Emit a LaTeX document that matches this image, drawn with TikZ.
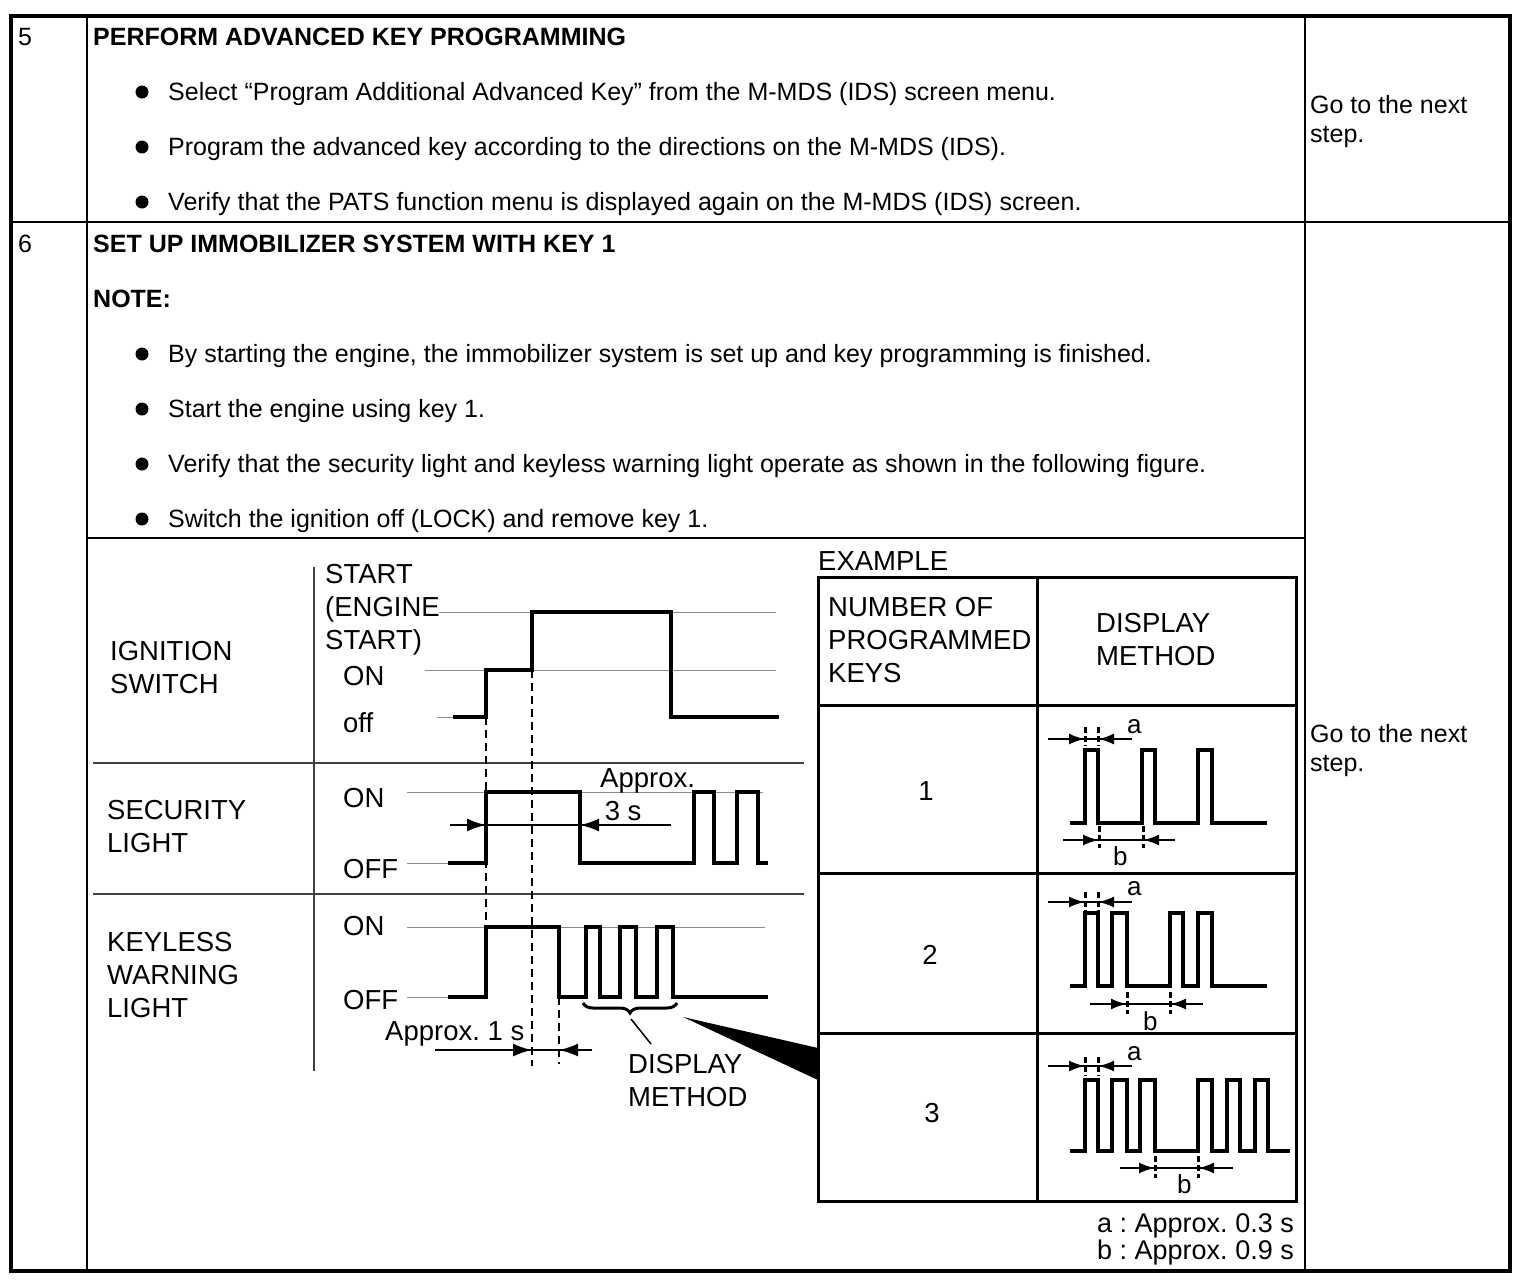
\documentclass[tikz,border=0pt]{standalone}
\usepackage{fontspec}
\setmainfont{Liberation Sans}
\usetikzlibrary{arrows.meta, decorations.pathreplacing}
\usetikzlibrary{calc}
\frenchspacing

\tikzset{
    txt/.style={inner sep=0pt, font=\fontsize{25}{29}\selectfont, align=left},
    hd/.style={inner sep=0pt, font=\fontsize{25}{29}\selectfont\bfseries},
    lbl/.style={inner sep=0pt, font=\fontsize{27.5}{33}\selectfont, align=left},
    small/.style={inner sep=0pt, font=\fontsize{26}{29}\selectfont},
    foot/.style={inner sep=0pt, font=\fontsize{27}{29}\selectfont},
    rule/.style={line width=1.5pt},
    sep/.style={line width=2pt, black!75},
    lvl/.style={line width=1pt, black!45},
    wave/.style={line width=4pt, line join=miter},
    guide/.style={line width=2.5pt, dash pattern=on 8pt off 5pt},
    tick/.style={line width=3pt, dash pattern=on 6pt off 3pt},
    dim/.style={line width=2pt, -{Latex[length=19pt,width=13pt]}},
    dimsmall/.style={line width=2.5pt, -{Latex[length=16pt,width=11pt]}},
}

\begin{document}
\begin{tikzpicture}[x=1pt, y=-1pt]
    \useasboundingbox (0,0) rectangle (1526,1286);

    % outer table
    \draw[line width=4.5pt] (11,16) rectangle (1510,1271);
    \draw[rule] (87,16) -- (87,1271);
    \draw[rule] (1305,16) -- (1305,1271);
    \draw[rule] (11,222) -- (1510,222);
    \draw[rule] (87,538) -- (1305,538);

    % step 5
    \node[txt, anchor=base west] (num5) at (18,45) {5};
    \node[hd, anchor=base west] (head5) at (93,45) {PERFORM ADVANCED KEY PROGRAMMING};
    \fill (142,92) circle (6.5pt);
    \fill (142,147) circle (6.5pt);
    \fill (142,202) circle (6.5pt);
    \node[txt, anchor=base west] (s5a) at (168,100) {Select “Program Additional Advanced Key” from the M-MDS (IDS) screen menu.};
    \node[txt, anchor=base west] (s5b) at (168,155) {Program the advanced key according to the directions on the M-MDS (IDS).};
    \node[txt, anchor=base west] (s5c) at (168,210) {Verify that the PATS function menu is displayed again on the M-MDS (IDS) screen.};
    \node[txt, anchor=base west] (go5) at (1310,142) {Go to the next\\step.};

    % step 6
    \node[txt, anchor=base west] (num6) at (18,252) {6};
    \node[hd, anchor=base west] (head6) at (93,252) {SET UP IMMOBILIZER SYSTEM WITH KEY 1};
    \node[hd, anchor=base west] (note) at (93,307) {NOTE:};
    \fill (142,354) circle (6.5pt);
    \fill (142,409) circle (6.5pt);
    \fill (142,464) circle (6.5pt);
    \fill (142,519) circle (6.5pt);
    \node[txt, anchor=base west] (s6a) at (168,362) {By starting the engine, the immobilizer system is set up and key programming is finished.};
    \node[txt, anchor=base west] (s6b) at (168,417) {Start the engine using key 1.};
    \node[txt, anchor=base west] (s6c) at (168,472) {Verify that the security light and keyless warning light operate as shown in the following figure.};
    \node[txt, anchor=base west] (s6d) at (168,527) {Switch the ignition off (LOCK) and remove key 1.};
    \node[txt, anchor=base west] (go6) at (1310,771) {Go to the next\\step.};

    % timing chart frame
    \draw[sep] (314,567) -- (314,1071);
    \draw[sep] (93,763) -- (804,763);
    \draw[sep] (93,894) -- (804,894);

    % ignition switch
    \node[lbl, anchor=base west] (ign) at (110,693) {IGNITION\\SWITCH};
    \node[lbl, anchor=base west] (ignstart) at (325,649) {START\\(ENGINE\\START)};
    \node[lbl, anchor=base west] (ignon) at (343,685) {ON};
    \node[lbl, anchor=base west] (ignoff) at (343,732) {off};
    \draw[lvl] (439,612) -- (776,612);
    \draw[lvl] (425,670) -- (776,670);
    \draw[lvl] (437,717) -- (455,717);
    \draw[wave] (453,717) -- (486,717) -- (486,670) -- (532,670) -- (532,612) -- (671,612) -- (671,717) -- (779,717);

    % security light
    \node[lbl, anchor=base west] (sec) at (107,852) {SECURITY\\LIGHT};
    \node[lbl, anchor=base west] (secon) at (343,807) {ON};
    \node[lbl, anchor=base west] (secoff) at (343,878) {OFF};
    \draw[lvl] (407,792) -- (763,792);
    \draw[lvl] (407,863) -- (448,863);
    \draw[wave] (448,863) -- (486,863) -- (486,792) -- (580,792) -- (580,863) -- (694,863) -- (694,792) -- (714,792) -- (714,863) -- (737,863) -- (737,792) -- (758,792) -- (758,863) -- (768,863);
    \node[lbl, anchor=base west] (ap3) at (600,820) {Approx.\\\,3 s};
    \draw[line width=2pt] (450,825) -- (671,825);
    \draw[dim] (450,825) -- (486,825);
    \draw[dim] (671,825) -- (580,825);

    % keyless warning light
    \node[lbl, anchor=base west] (kwl) at (107,1017) {KEYLESS\\WARNING\\LIGHT};
    \node[lbl, anchor=base west] (kwlon) at (343,935) {ON};
    \node[lbl, anchor=base west] (kwloff) at (343,1009) {OFF};
    \draw[lvl] (407,927) -- (765,927);
    \draw[lvl] (407,997) -- (448,997);
    \draw[wave] (448,997) -- (486,997) -- (486,927) -- (559,927) -- (559,997) -- (586,997) -- (586,927) -- (600,927) -- (600,997) -- (620,997) -- (620,927) -- (636,927) -- (636,997) -- (657,997) -- (657,927) -- (673,927) -- (673,997) -- (768,997);

    % guides
    \draw[guide] (486,717) -- (486,925);
    \draw[guide] (532,670) -- (532,1066);
    \draw[guide] (559,997) -- (559,1064);
    \node[lbl, anchor=base west] (ap1) at (385,1040) {Approx. 1 s};
    \draw[line width=2pt] (435,1050) -- (592,1050);
    \draw[dim] (435,1050) -- (532,1050);
    \draw[dim] (592,1050) -- (559,1050);

    % display method callout
    \draw[line width=3pt, decorate, decoration={brace, mirror, amplitude=10pt}] (583,1003) -- (677,1003);
    \coordinate (bracetip) at (631,1019);
    \node[lbl, anchor=base west] (dispm) at (628,1106) {DISPLAY\\METHOD};
    \coordinate (leaderend) at (651,1044);
    \draw[line width=1.5pt] (bracetip) -- (leaderend);
    \fill (683,1017) -- (818,1048) -- (818,1080) -- cycle;

    % example table
    \node[lbl, anchor=base west] (example) at (818,570) {EXAMPLE};
    \draw[line width=3pt] (818,577) rectangle (1296,1201);
    \draw[line width=3pt] (1037,577) -- (1037,1201);
    \draw[line width=3pt] (818,705) -- (1296,705);
    \draw[line width=3pt] (818,873) -- (1296,873);
    \draw[line width=3pt] (818,1033) -- (1296,1033);
    \node[lbl, anchor=base west] (hkeys) at (828,682) {NUMBER OF\\PROGRAMMED\\KEYS};
    \node[lbl, anchor=base west] (hdisp) at (1096,665) {DISPLAY\\METHOD};
    \node[lbl] (k1) at (926,791) {1};
    \node[lbl] (k2) at (930,955) {2};
    \node[lbl] (k3) at (932,1113) {3};

    % one key
    \draw[wave] (1070,823) -- (1085,823) -- (1085,750) -- (1098,750) -- (1098,823) -- (1142,823) -- (1142,750) -- (1155,750) -- (1155,823) -- (1198,823) -- (1198,750) -- (1212,750) -- (1212,823) -- (1267,823);
    \draw[tick] (1085,727) -- (1085,746);
    \draw[tick] (1098,727) -- (1098,746);
    \draw[line width=1.5pt] (1048,739) -- (1132,739);
    \draw[dimsmall] (1048,739) -- (1085,739);
    \draw[dimsmall] (1132,739) -- (1098,739);
    \node[small, anchor=base west] (a1) at (1127,733) {a};
    \draw[tick] (1099,826) -- (1099,848);
    \draw[tick] (1143,826) -- (1143,848);
    \draw[line width=1.5pt] (1063,840) -- (1175,840);
    \draw[dimsmall] (1063,840) -- (1099,840);
    \draw[dimsmall] (1175,840) -- (1143,840);
    \node[small, anchor=base west] (b1) at (1113,865) {b};

    % two keys
    \draw[wave] (1070,986) -- (1085,986) -- (1085,913) -- (1098,913) -- (1098,986) -- (1112,986) -- (1112,913) -- (1127,913) -- (1127,986) -- (1170,986) -- (1170,913) -- (1183,913) -- (1183,986) -- (1198,986) -- (1198,913) -- (1212,913) -- (1212,986) -- (1267,986);
    \draw[tick] (1085,892) -- (1085,911);
    \draw[tick] (1098,892) -- (1098,911);
    \draw[line width=1.5pt] (1048,902) -- (1132,902);
    \draw[dimsmall] (1048,902) -- (1085,902);
    \draw[dimsmall] (1132,902) -- (1098,902);
    \node[small, anchor=base west] (a2) at (1127,895) {a};
    \draw[tick] (1127,992) -- (1127,1014);
    \draw[tick] (1170,992) -- (1170,1014);
    \draw[line width=1.5pt] (1090,1004) -- (1203,1004);
    \draw[dimsmall] (1090,1004) -- (1127,1004);
    \draw[dimsmall] (1203,1004) -- (1170,1004);
    \node[small, anchor=base west] (b2) at (1143,1030) {b};

    % three keys
    \draw[wave] (1070,1151) -- (1085,1151) -- (1085,1080) -- (1098,1080) -- (1098,1151) -- (1112,1151) -- (1112,1080) -- (1127,1080) -- (1127,1151) -- (1140,1151) -- (1140,1080) -- (1155,1080) -- (1155,1151) -- (1198,1151) -- (1198,1080) -- (1212,1080) -- (1212,1151) -- (1227,1151) -- (1227,1080) -- (1240,1080) -- (1240,1151) -- (1255,1151) -- (1255,1080) -- (1268,1080) -- (1268,1151) -- (1290,1151);
    \draw[tick] (1085,1057) -- (1085,1076);
    \draw[tick] (1098,1057) -- (1098,1076);
    \draw[line width=1.5pt] (1048,1066) -- (1132,1066);
    \draw[dimsmall] (1048,1066) -- (1085,1066);
    \draw[dimsmall] (1132,1066) -- (1098,1066);
    \node[small, anchor=base west] (a3) at (1127,1060) {a};
    \draw[tick] (1155,1156) -- (1155,1178);
    \draw[tick] (1198,1156) -- (1198,1178);
    \draw[line width=1.5pt] (1120,1168) -- (1233,1168);
    \draw[dimsmall] (1120,1168) -- (1155,1168);
    \draw[dimsmall] (1233,1168) -- (1198,1168);
    \node[small, anchor=base west] (b3) at (1177,1193) {b};

    % legend
    \node[foot, anchor=base east] (fna) at (1294,1232) {a : Approx. 0.3 s};
    \node[foot, anchor=base east] (fnb) at (1294,1259) {b : Approx. 0.9 s};
\end{tikzpicture}
\end{document}
